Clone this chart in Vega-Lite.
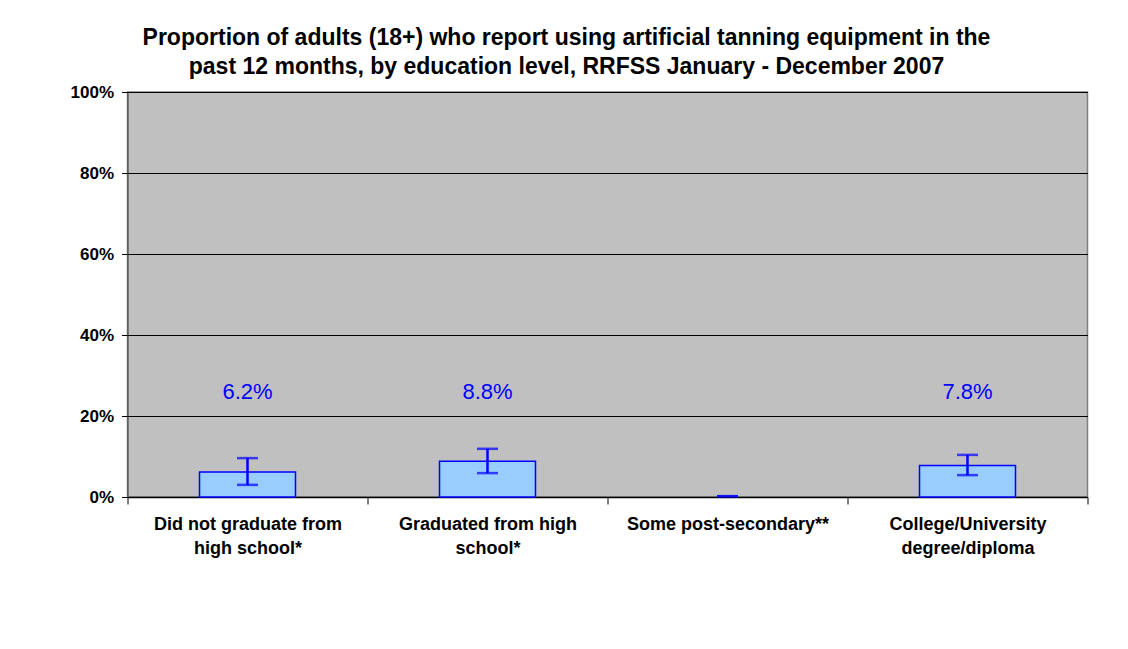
{
  "$schema": "https://vega.github.io/schema/vega-lite/v6.json",
  "width": 960,
  "height": 405,
  "autosize": {"type": "none"},
  "padding": {"left": 127.5, "top": 92, "right": 40.5, "bottom": 152},
  "background": "white",
  "title": {
    "text": ["Proportion of adults (18+) who report using artificial tanning equipment in the", "past 12 months, by education level, RRFSS January - December 2007"],
    "font": "Liberation Sans",
    "fontSize": 23,
    "fontWeight": "bold",
    "color": "black",
    "lineHeight": 29,
    "anchor": "middle",
    "dx": -41,
    "offset": 4
  },
  "config": {
    "view": {"fill": "#C0C0C0", "stroke": "#808080", "strokeWidth": 1.5},
    "axis": {"labelFont": "Liberation Sans", "labelFontSize": 18, "labelFontWeight": "bold", "labelColor": "black", "domainColor": "black", "tickColor": "black"}
  },
  "data": {
    "values": [
      {"category": "Did not graduate from high school*", "value": 6.2, "lower": 3.0, "upper": 9.6, "label": "6.2%"},
      {"category": "Graduated from high school*", "value": 8.8, "lower": 5.9, "upper": 11.9, "label": "8.8%"},
      {"category": "Some post-secondary**", "value": 0, "lower": 0.2, "upper": 0.2, "label": ""},
      {"category": "College/University degree/diploma", "value": 7.8, "lower": 5.4, "upper": 10.4, "label": "7.8%"}
    ]
  },
  "encoding": {
    "x": {
      "field": "category",
      "type": "nominal",
      "sort": ["Did not graduate from high school*", "Graduated from high school*", "Some post-secondary**", "College/University degree/diploma"],
      "scale": {"domain": ["Did not graduate from high school*", "Graduated from high school*", "Some post-secondary**", "College/University degree/diploma"], "paddingInner": 0, "paddingOuter": 0},
      "axis": {
        "title": null,
        "labelAngle": 0,
        "labelLimit": 0,
        "labelOverlap": false,
        "tickBand": "extent",
        "tickSize": 7,
        "labelPadding": 11,
        "labelLineHeight": 24,
        "labelBaseline": "top",
        "domainWidth": 1.5,
        "labelExpr": "datum.value == 'Did not graduate from high school*' ? ['Did not graduate from', 'high school*'] : datum.value == 'Graduated from high school*' ? ['Graduated from high', 'school*'] : datum.value == 'College/University degree/diploma' ? ['College/University', 'degree/diploma'] : datum.value"
      }
    }
  },
  "layer": [
    {
      "mark": {"type": "bar", "fill": "#99CCFF", "stroke": "#0000FF", "strokeWidth": 1.5, "width": {"band": 0.4}},
      "transform": [{"filter": "datum.value > 0"}],
      "encoding": {
        "y": {
          "field": "value",
          "type": "quantitative",
          "scale": {"domain": [0, 100], "nice": false},
          "axis": {
            "title": null,
            "values": [0, 20, 40, 60, 80, 100],
            "labelExpr": "datum.value + '%'",
            "labelFontSize": 17,
            "grid": true,
            "gridColor": "black",
            "gridWidth": 1,
            "tickSize": 6,
            "labelPadding": 8,
            "domainColor": "#404040"
          }
        }
      }
    },
    {
      "mark": {"type": "rule", "color": "#0000FF", "strokeWidth": 2.5},
      "transform": [{"filter": "datum.value > 0"}],
      "encoding": {
        "y": {"field": "lower", "type": "quantitative"},
        "y2": {"field": "upper"}
      }
    },
    {
      "mark": {"type": "tick", "color": "#0000FF", "thickness": 2.5, "size": 21, "orient": "horizontal"},
      "encoding": {"y": {"field": "lower", "type": "quantitative"}}
    },
    {
      "mark": {"type": "tick", "color": "#0000FF", "thickness": 2.5, "size": 21, "orient": "horizontal"},
      "encoding": {"y": {"field": "upper", "type": "quantitative"}}
    },
    {
      "mark": {"type": "text", "color": "#0000FF", "font": "Liberation Sans", "fontSize": 22, "baseline": "middle"},
      "encoding": {
        "y": {"datum": 26},
        "text": {"field": "label"}
      }
    }
  ]
}
